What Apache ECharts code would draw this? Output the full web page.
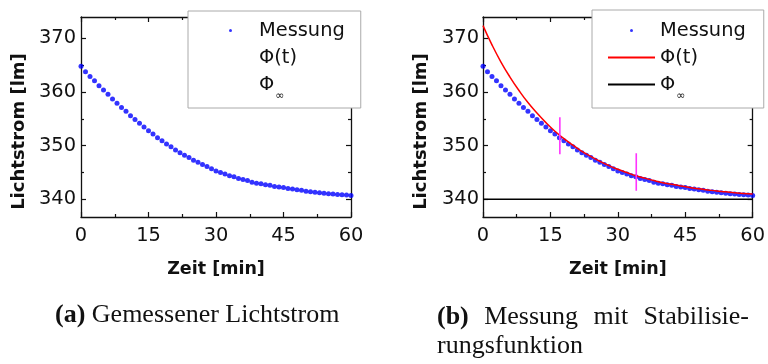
<!DOCTYPE html>
<html><head><meta charset="utf-8">
<script src="https://cdn.jsdelivr.net/npm/echarts@6/dist/echarts.min.js"></script>
<style>html,body{margin:0;padding:0;background:#fff}#c{width:768px;height:364px}</style>
</head><body><div id="c"></div>
<script>
// ---- data ----
const timeMin = [];
for (let t = 0; t <= 60; t++) timeMin.push(t);
const messung = [
  364.8, 363.8, 362.9, 362.1, 361.2, 360.4, 359.6, 358.7, 357.9, 357.1,
  356.4, 355.6, 354.9, 354.2, 353.5, 352.8, 352.2, 351.5, 350.9, 350.3,
  349.8, 349.2, 348.7, 348.2, 347.8, 347.3, 346.9, 346.5, 346.1, 345.7,
  345.3, 345.0, 344.7, 344.4, 344.2, 343.9, 343.7, 343.5, 343.2, 343.0,
  342.9, 342.7, 342.6, 342.4, 342.3, 342.2, 342.0, 341.9, 341.8, 341.7,
  341.5, 341.4, 341.3, 341.2, 341.15, 341.05, 341.0, 340.9, 340.85, 340.8,
  340.7
];
const fitTime = [0, 2, 4, 6, 8, 10, 12, 14, 16, 18, 20, 22, 24, 26, 28, 30,
                 32, 34, 36, 38, 40, 42, 44, 46, 48, 50, 52, 54, 56, 58, 60];
const fitValues = [372.4, 368.8, 365.6, 362.8, 360.3, 358.05, 356.1, 354.3, 352.7, 351.3,
                   350.1, 348.95, 348.0, 347.1, 346.3, 345.6, 345.0, 344.4, 343.95, 343.5,
                   343.1, 342.8, 342.5, 342.2, 341.95, 341.75, 341.55, 341.4, 341.2, 341.1, 341.0];
const asymTime = [0, 60];
const asymValues = [340, 340];
const tauTime = [17.1, 34.1];
const tauLow = [348.4, 341.6];
const tauHigh = [355.3, 348.6];
const xTickLabels = [0, 15, 30, 45, 60];
const yTickLabels = [340, 350, 360, 370];
const yMinorTicks = [345, 355, 365];
const legendNames = ['Messung', 'Φ(t)', 'Φ∞'];
const captionA = ['(a)', 'Gemessener Lichtstrom'];
const captionB1 = ['(b)', 'Messung', 'mit', 'Stabilisie-'];
const captionB2 = 'rungsfunktion';

// ---- chart ----
const SANS = '"DejaVu Sans", sans-serif';
const SERIF = '"Liberation Serif", serif';
const CAP = 26;
const AX = '#111';
const zip = (a, b) => a.map((v, i) => [v, b[i]]);

function xAxes(gridIndex) {
  const base = {
    type: 'value', gridIndex, min: xTickLabels[0], max: xTickLabels[xTickLabels.length - 1],
    interval: xTickLabels[1] - xTickLabels[0],
    axisLine: { show: true, lineStyle: { color: AX, width: 1.3 } },
    axisTick: { show: true, inside: true, length: 5, lineStyle: { color: AX, width: 1.2 } },
    minorTick: { show: true, splitNumber: 2, length: 3, lineStyle: { color: AX, width: 1.2 } },
    splitLine: { show: false }
  };
  return [
    Object.assign({}, base, {
      position: 'bottom',
      axisLabel: { show: true, margin: 9, fontSize: 19.4, fontFamily: SANS, color: '#111' },
      name: 'Zeit [min]', nameLocation: 'middle', nameGap: 43,
      nameTextStyle: { fontSize: 17.5, fontWeight: 'bold', fontFamily: SANS, color: '#111' }
    }),
    Object.assign({}, base, { position: 'top', axisLabel: { show: false } })
  ];
}
function yAxes(gridIndex, labelMargin) {
  const base = {
    type: 'value', gridIndex, min: 336.7, max: 374,
    splitLine: { show: false },
    axisLabel: { show: false }
  };
  const majorTick = { show: true, inside: true, length: 5, customValues: yTickLabels, lineStyle: { color: AX, width: 1.2 } };
  const minorTick = { show: true, inside: true, length: 3, customValues: yMinorTicks, lineStyle: { color: AX, width: 1.2 } };
  return [
    Object.assign({}, base, {
      position: 'left',
      axisLine: { show: true, lineStyle: { color: AX, width: 1.3 } },
      axisTick: majorTick,
      axisLabel: { show: true, customValues: yTickLabels, margin: labelMargin, fontSize: 19.4, fontFamily: SANS, color: '#111' },
      name: 'Lichtstrom [lm]', nameLocation: 'middle', nameGap: 53,
      nameTextStyle: { fontSize: 18, fontWeight: 'bold', fontFamily: SANS, color: '#111', padding: [0, 29, 0, 0] }
    }),
    Object.assign({}, base, { position: 'left', axisLine: { show: false }, axisTick: minorTick }),
    Object.assign({}, base, { position: 'right', axisLine: { show: true, lineStyle: { color: AX, width: 1.3 } }, axisTick: majorTick }),
    Object.assign({}, base, { position: 'right', axisLine: { show: false }, axisTick: minorTick })
  ];
}

const legendText = {
  fontSize: 19.4, fontFamily: SANS, color: '#111',
  rich: {
    p: { fontSize: 19.4, fontFamily: SANS, color: '#111' },
    s: { fontSize: 11, fontFamily: SANS, color: '#111', padding: [12, 0, -12, 1] }
  }
};
const legendFormatter = name => name === legendNames[2] ? '{p|Φ}{s|∞}' : name;
const hidden = { itemStyle: { opacity: 0 }, lineStyle: { opacity: 0 } };

// justified first caption line of (b)
const ctx = document.createElement('canvas').getContext('2d');
function textW(s, bold) { ctx.font = (bold ? 'bold ' : '') + CAP + 'px ' + SERIF; return ctx.measureText(s).width; }
const bLeft = 437, bRight = 749;
const bWidths = captionB1.map((w, i) => textW(w, i === 0));
const bGap = (bRight - bLeft - bWidths.reduce((a, b) => a + b, 0)) / (captionB1.length - 1);
let bx = bLeft;
const bGraphics = captionB1.map((w, i) => {
  const g = { type: 'text', x: bx, y: 317, style: { text: w, font: (i === 0 ? 'bold ' : '') + CAP + 'px ' + SERIF, fill: '#111', verticalAlign: 'middle' } };
  bx += bWidths[i] + bGap;
  return g;
});

const option = {
  animation: false,
  backgroundColor: '#fff',
  grid: [
    { left: 81, top: 17, width: 270, height: 200 },
    { left: 483, top: 17, width: 272, height: 200 }
  ],
  xAxis: [].concat(xAxes(0), xAxes(1)),
  yAxis: [].concat(yAxes(0, 5), yAxes(1, 4)),
  legend: [
    {
      orient: 'vertical', left: 188, top: 11, padding: [10, 16, 6, 18],
      itemWidth: 47, itemHeight: 3, itemGap: 8, selectedMode: false,
      backgroundColor: '#fff', borderColor: '#aaa', borderWidth: 1,
      textStyle: legendText, formatter: legendFormatter,
      data: [
        { name: legendNames[0], icon: 'circle' },
        Object.assign({ name: legendNames[1] }, hidden),
        Object.assign({ name: legendNames[2] }, hidden)
      ]
    },
    {
      orient: 'vertical', left: 592, top: 10, padding: [11, 18, 6, 15],
      itemWidth: 47, itemHeight: 3, itemGap: 8, selectedMode: false,
      backgroundColor: '#fff', borderColor: '#aaa', borderWidth: 1,
      textStyle: legendText, formatter: legendFormatter,
      data: [
        { name: legendNames[0], icon: 'circle' },
        { name: legendNames[1], itemStyle: { opacity: 0 } },
        { name: legendNames[2], itemStyle: { opacity: 0 } }
      ]
    }
  ],
  series: [
    {
      name: legendNames[0], type: 'scatter', xAxisIndex: 0, yAxisIndex: 0,
      data: zip(timeMin, messung), symbolSize: 5, itemStyle: { color: '#0000ff' }, z: 3
    },
    {
      name: legendNames[0], type: 'scatter', xAxisIndex: 2, yAxisIndex: 4,
      data: zip(timeMin, messung), symbolSize: 5, itemStyle: { color: '#0000ff' }, z: 3
    },
    {
      name: legendNames[1], type: 'line', xAxisIndex: 2, yAxisIndex: 4,
      data: zip(fitTime, fitValues), smooth: true, symbol: 'none',
      lineStyle: { color: '#ff0000', width: 1.5 }, itemStyle: { color: '#ff0000' }, z: 4
    },
    {
      name: legendNames[2], type: 'line', xAxisIndex: 2, yAxisIndex: 4,
      data: zip(asymTime, asymValues), symbol: 'none',
      lineStyle: { color: '#000', width: 1.5 }, itemStyle: { color: '#000' }, z: 4
    }
  ].concat(tauTime.map((t, i) => ({
    name: 'tau' + (i + 1), type: 'line', xAxisIndex: 2, yAxisIndex: 4,
    data: [[t, tauLow[i]], [t, tauHigh[i]]], symbol: 'none',
    lineStyle: { color: '#ff33ff', width: 1.6 }, z: 5
  }))),
  graphic: [
    { type: 'text', x: 55, y: 315, style: {
        text: '{b|' + captionA[0] + '} ' + captionA[1], font: CAP + 'px ' + SERIF, fill: '#111', verticalAlign: 'middle',
        rich: { b: { fontWeight: 'bold', fontSize: CAP, fontFamily: SERIF } } } }
  ].concat(bGraphics, [
    { type: 'text', x: bLeft, y: 346, style: { text: captionB2, font: CAP + 'px ' + SERIF, fill: '#111', verticalAlign: 'middle' } }
  ])
};
const chart = echarts.init(document.getElementById('c'), null, { renderer: 'canvas' });
chart.setOption(option);
</script>
</body></html>
